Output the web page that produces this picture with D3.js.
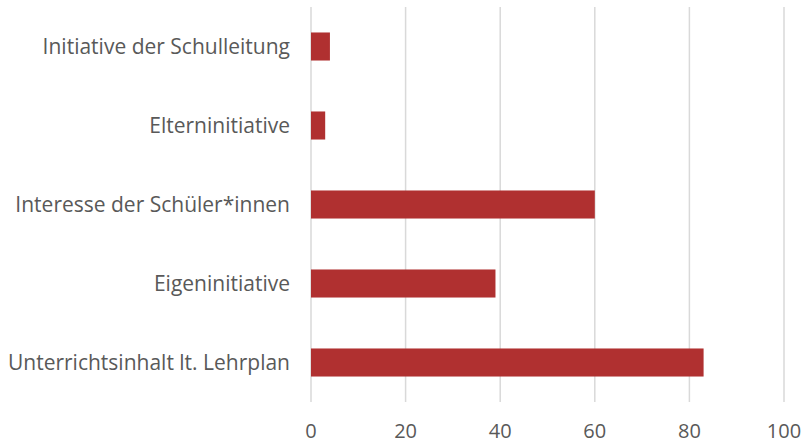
<!DOCTYPE html>
<html><head><meta charset="utf-8">
<script src="https://cdn.jsdelivr.net/npm/d3@7"></script>
<style>body{margin:0;background:#fff;} text{font-family:"Open Sans", sans-serif;fill:#595959;}</style>
</head><body><svg id="c" width="802" height="444"></svg>
<script>
const categories = ["Initiative der Schulleitung","Elterninitiative","Interesse der Schüler*innen","Eigeninitiative","Unterrichtsinhalt lt. Lehrplan"];
const values = [4,3,60,39,83];
const ticks = [0,20,40,60,80,100];

const svg = d3.select("#c");
const x = d3.scaleLinear().domain([0,100]).range([311,784]);
const y = d3.scaleBand().domain(categories).range([7,402]).paddingInner(0.645).paddingOuter(0.3225);

svg.append("g").selectAll("line").data(ticks).join("line")
  .attr("x1",d=>x(d)).attr("x2",d=>x(d)).attr("y1",7).attr("y2",402)
  .attr("stroke","#d9d9d9").attr("stroke-width",1.5);

svg.append("g").selectAll("rect").data(values).join("rect")
  .attr("x",x(0)).attr("y",(d,i)=>y(categories[i]))
  .attr("width",d=>x(d)-x(0)).attr("height",y.bandwidth())
  .attr("fill","#B03030");

svg.append("g").selectAll("text").data(categories).join("text")
  .attr("x",290).attr("y",d=>y(d)+y.bandwidth()/2).attr("dy","0.36em")
  .attr("text-anchor","end").attr("font-size",21).text(d=>d);

svg.append("g").selectAll("text").data(ticks).join("text")
  .attr("x",d=>x(d)).attr("y",438).attr("text-anchor","middle")
  .attr("font-size",20).text(d=>d);
</script></body></html>
